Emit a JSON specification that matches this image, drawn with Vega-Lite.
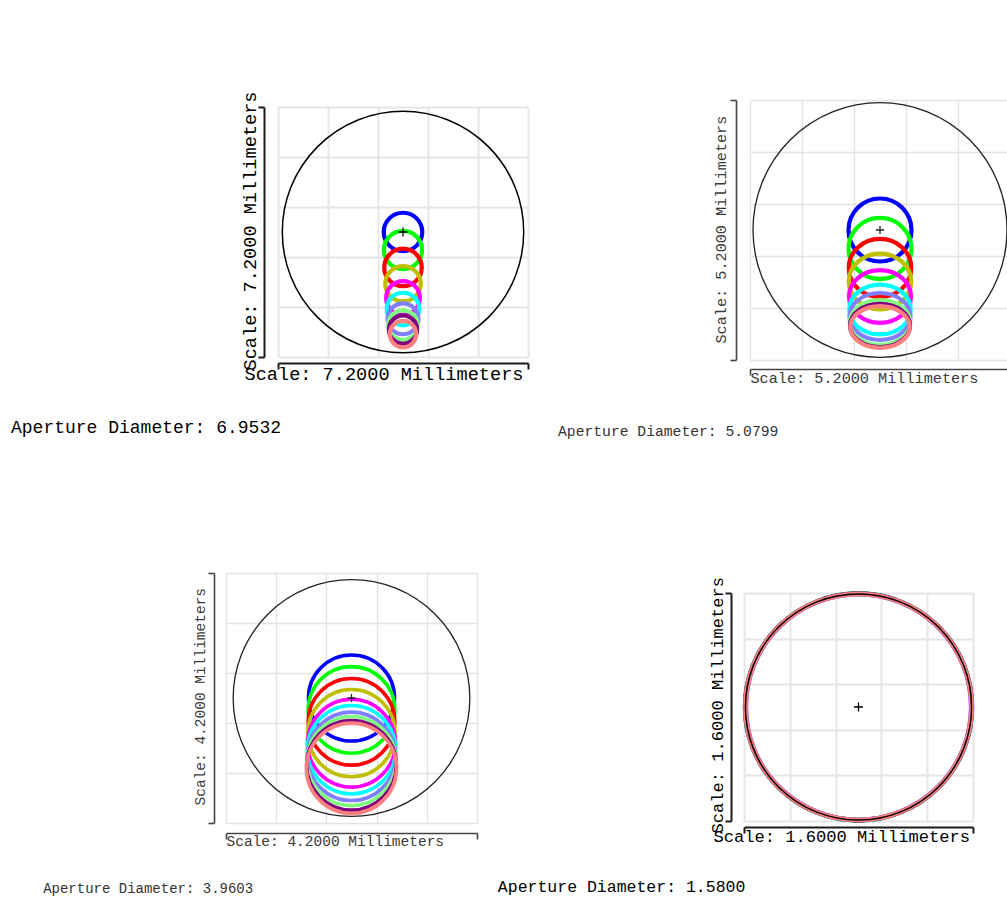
{
  "$schema": "https://vega.github.io/schema/vega-lite/v6.json",
  "padding": {"left": 10, "top": 91, "right": 0, "bottom": 0},
  "background": "white",
  "config": {"view": {"stroke": null}},
  "datasets": {
    "ap1": [{"x": 0, "y": 0, "d": 6.9532, "label": "Aperture Diameter: 6.9532"}],
    "ap2": [{"x": 0, "y": 0, "d": 5.0799, "label": "Aperture Diameter: 5.0799"}],
    "ap3": [{"x": 0, "y": 0, "d": 3.9603, "label": "Aperture Diameter: 3.9603"}],
    "ap4": [{"x": 0, "y": 0, "d": 1.58, "label": "Aperture Diameter: 1.5800"}],
    "p1": [
      {"f": 1, "x": 0, "y": 0, "d": 1.11},
      {"f": 2, "x": 0, "y": -0.52, "d": 1.10},
      {"f": 3, "x": 0, "y": -1.02, "d": 1.08},
      {"f": 4, "x": 0, "y": -1.49, "d": 1.02},
      {"f": 5, "x": 0, "y": -1.90, "d": 0.97},
      {"f": 6, "x": 0, "y": -2.22, "d": 0.94},
      {"f": 7, "x": 0, "y": -2.50, "d": 0.89},
      {"f": 8, "x": 0, "y": -2.68, "d": 0.85},
      {"f": 9, "x": 0, "y": -2.81, "d": 0.81},
      {"f": 10, "x": 0, "y": -2.94, "d": 0.76}
    ],
    "p2": [
      {"f": 1, "x": 0, "y": 0, "d": 1.26},
      {"f": 2, "x": 0, "y": -0.37, "d": 1.26},
      {"f": 3, "x": 0, "y": -0.76, "d": 1.25},
      {"f": 4, "x": 0, "y": -1.03, "d": 1.25},
      {"f": 5, "x": 0, "y": -1.33, "d": 1.24},
      {"f": 6, "x": 0, "y": -1.59, "d": 1.23},
      {"f": 7, "x": 0, "y": -1.73, "d": 1.22},
      {"f": 8, "x": 0, "y": -1.85, "d": 1.21},
      {"f": 9, "x": 0, "y": -1.91, "d": 1.20},
      {"f": 10, "x": 0, "y": -1.94, "d": 1.19}
    ],
    "p3": [
      {"f": 1, "x": 0, "y": 0, "d": 1.44},
      {"f": 2, "x": 0, "y": -0.20, "d": 1.45},
      {"f": 3, "x": 0, "y": -0.40, "d": 1.45},
      {"f": 4, "x": 0, "y": -0.59, "d": 1.46},
      {"f": 5, "x": 0, "y": -0.76, "d": 1.47},
      {"f": 6, "x": 0, "y": -0.87, "d": 1.48},
      {"f": 7, "x": 0, "y": -0.98, "d": 1.48},
      {"f": 8, "x": 0, "y": -1.06, "d": 1.49},
      {"f": 9, "x": 0, "y": -1.13, "d": 1.50},
      {"f": 10, "x": 0, "y": -1.18, "d": 1.51}
    ],
    "p4": [
      {"f": 1, "x": 0, "y": 0, "d": 1.586},
      {"f": 2, "x": 0, "y": 0, "d": 1.584},
      {"f": 3, "x": 0, "y": 0, "d": 1.582},
      {"f": 4, "x": 0, "y": 0, "d": 1.580},
      {"f": 5, "x": 0, "y": 0, "d": 1.574},
      {"f": 6, "x": 0, "y": 0, "d": 1.578},
      {"f": 7, "x": 0, "y": 0, "d": 1.580},
      {"f": 8, "x": 0, "y": 0, "d": 1.580},
      {"f": 9, "x": 0, "y": 0, "d": 1.581},
      {"f": 10, "x": 0, "y": 0, "d": 1.580}
    ]
  },
  "bounds": "flush",
  "spacing": 473,
  "resolve": {
    "scale": {"x": "independent", "y": "independent", "size": "independent", "color": "independent", "shape": "independent"},
    "axis": {"x": "independent", "y": "independent"}
  },
  "vconcat": [
    {
      "bounds": "flush",
      "spacing": 0,
      "resolve": {
        "scale": {"x": "independent", "y": "independent", "size": "independent", "color": "independent", "shape": "independent"},
        "axis": {"x": "independent", "y": "independent"}
      },
      "hconcat": [
        {"width": 267, "height": 1, "data": {"values": []}, "mark": "point"},
        {
          "bounds": "flush",
          "spacing": 0,
          "resolve": {
            "scale": {"x": "independent", "y": "independent", "size": "independent", "color": "independent", "shape": "independent"},
            "axis": {"x": "independent", "y": "independent"}
          },
          "vconcat": [
            {"width": 1, "height": 7, "data": {"values": []}, "mark": "point"},
            {
              "width": 250, "height": 250,
              "layer": [
                {
                  "data": {"name": "ap1"},
                  "mark": {"type": "point", "shape": "circle", "filled": false, "color": "#000", "strokeWidth": 1.5, "opacity": 1},
                  "encoding": {
                    "x": {"field": "x", "type": "quantitative", "scale": {"domain": [-3.6, 3.6], "nice": false},
                      "axis": {"values": [-3.6, -2.88, -2.16, -1.44, -0.72, 0, 0.72, 1.44, 2.16, 2.88, 3.6], "grid": true, "gridColor": "#e6e6e6", "gridWidth": 2, "labels": false, "domainColor": "#1a1a1a", "domainWidth": 2, "tickColor": "#1a1a1a", "tickWidth": 2, "tickSize": 6, "tickOpacity": {"condition": {"test": "abs(datum.value) > 3.5", "value": 1}, "value": 0}, "offset": 6, "title": "Scale: 7.2000 Millimeters", "titleFont": "Liberation Mono", "titleFontSize": 18.6, "titleFontWeight": "normal", "titleColor": "#000", "titleAlign": "left", "titleBaseline": "alphabetic", "titleX": -34, "titleY": 16}},
                    "y": {"field": "y", "type": "quantitative", "scale": {"domain": [-3.6, 3.6], "nice": false},
                      "axis": {"values": [-3.6, -2.88, -2.16, -1.44, -0.72, 0, 0.72, 1.44, 2.16, 2.88, 3.6], "grid": true, "gridColor": "#e6e6e6", "gridWidth": 2, "labels": false, "domainColor": "#1a1a1a", "domainWidth": 2, "tickColor": "#1a1a1a", "tickWidth": 2, "tickSize": 6, "tickOpacity": {"condition": {"test": "abs(datum.value) > 3.5", "value": 1}, "value": 0}, "offset": 14, "title": "Scale: 7.2000 Millimeters", "titleFont": "Liberation Mono", "titleFontSize": 18.6, "titleFontWeight": "normal", "titleColor": "#000", "titleAngle": 270, "titleAlign": "left", "titleBaseline": "alphabetic", "titleX": -9, "titleY": 263}},
                    "size": {"field": "d", "type": "quantitative", "scale": {"type": "pow", "exponent": 2, "domain": [0, 7.2], "range": [0, 62500]}, "legend": null}
                  }
                },
                {
                  "data": {"name": "p1"},
                  "mark": {"type": "point", "shape": "circle", "filled": false, "strokeWidth": 4.2, "opacity": 1},
                  "encoding": {
                    "x": {"field": "x", "type": "quantitative"},
                    "y": {"field": "y", "type": "quantitative"},
                    "size": {"field": "d", "type": "quantitative", "legend": null},
                    "color": {"field": "f", "type": "nominal", "scale": {"domain": [1, 2, 3, 4, 5, 6, 7, 8, 9, 10], "range": ["#0000ff", "#00ff00", "#ff0000", "#bfbf00", "#ff00ff", "#00ffff", "#8080ff", "#80ff80", "#800080", "#ff8080"]}, "legend": null}
                  }
                },
                {
                  "data": {"name": "ap1"},
                  "mark": {"type": "point", "shape": "M-1,0H1M0,-1V1", "filled": false, "color": "#000", "strokeWidth": 1.3, "size": 81, "opacity": 1},
                  "encoding": {"x": {"field": "x", "type": "quantitative"}, "y": {"field": "y", "type": "quantitative"}}
                },
                {
                  "data": {"name": "ap1"},
                  "mark": {"type": "text", "align": "left", "baseline": "alphabetic", "font": "Liberation Mono", "fontSize": 18, "color": "#000"},
                  "encoding": {"text": {"field": "label"}, "x": {"datum": -11.29, "type": "quantitative"}, "y": {"datum": -5.78, "type": "quantitative"}}
                }
              ]
            }
          ]
        },
        {"width": 472, "height": 1, "data": {"values": []}, "mark": "point"},
        {
          "width": 260, "height": 260,
          "layer": [
            {
              "data": {"name": "ap2"},
              "mark": {"type": "point", "shape": "circle", "filled": false, "color": "#222", "strokeWidth": 1.3, "opacity": 1},
              "encoding": {
                "x": {"field": "x", "type": "quantitative", "scale": {"domain": [-2.6, 2.6], "nice": false},
                  "axis": {"values": [-2.6, -2.08, -1.56, -1.04, -0.52, 0, 0.52, 1.04, 1.56, 2.08, 2.6], "grid": true, "gridColor": "#e3e3e3", "gridWidth": 1.3, "labels": false, "domainColor": "#444", "domainWidth": 1.6, "tickColor": "#444", "tickWidth": 1.6, "tickSize": 6, "tickOpacity": {"condition": {"test": "abs(datum.value) > 2.5", "value": 1}, "value": 0}, "offset": 9, "title": "Scale: 5.2000 Millimeters", "titleFont": "Liberation Mono", "titleFontSize": 15.2, "titleFontWeight": "normal", "titleColor": "#3a3a3a", "titleAlign": "left", "titleBaseline": "alphabetic", "titleX": 0, "titleY": 13}},
                "y": {"field": "y", "type": "quantitative", "scale": {"domain": [-2.6, 2.6], "nice": false},
                  "axis": {"values": [-2.6, -2.08, -1.56, -1.04, -0.52, 0, 0.52, 1.04, 1.56, 2.08, 2.6], "grid": true, "gridColor": "#e3e3e3", "gridWidth": 1.3, "labels": false, "domainColor": "#444", "domainWidth": 1.6, "tickColor": "#444", "tickWidth": 1.6, "tickSize": 6, "tickOpacity": {"condition": {"test": "abs(datum.value) > 2.5", "value": 1}, "value": 0}, "offset": 14, "title": "Scale: 5.2000 Millimeters", "titleFont": "Liberation Mono", "titleFontSize": 15.2, "titleFontWeight": "normal", "titleColor": "#3a3a3a", "titleAngle": 270, "titleAlign": "left", "titleBaseline": "alphabetic", "titleX": -11, "titleY": 243}},
                "size": {"field": "d", "type": "quantitative", "scale": {"type": "pow", "exponent": 2, "domain": [0, 5.2], "range": [0, 67600]}, "legend": null}
              }
            },
            {
              "data": {"name": "p2"},
              "mark": {"type": "point", "filled": false, "strokeWidth": 4.2, "opacity": 1},
              "encoding": {
                "x": {"field": "x", "type": "quantitative"},
                "y": {"field": "y", "type": "quantitative"},
                "size": {"field": "d", "type": "quantitative", "legend": null},
                "color": {"field": "f", "type": "nominal", "scale": {"domain": [1, 2, 3, 4, 5, 6, 7, 8, 9, 10], "range": ["#0000ff", "#00ff00", "#ff0000", "#bfbf00", "#ff00ff", "#00ffff", "#8080ff", "#80ff80", "#800080", "#ff8080"]}, "legend": null},
                "shape": {"field": "f", "type": "nominal", "scale": {"domain": [1, 2, 3, 4, 5, 6, 7, 8, 9, 10], "range": [
                  "circle",
                  "M-1,0C-1,-0.5357,-0.5523,-0.97,0,-0.97C0.5523,-0.97,1,-0.5357,1,0C1,0.5357,0.5523,0.97,0,0.97C-0.5523,0.97,-1,0.5357,-1,0Z",
                  "M-1,0C-1,-0.5136,-0.5523,-0.93,0,-0.93C0.5523,-0.93,1,-0.5136,1,0C1,0.5136,0.5523,0.93,0,0.93C-0.5523,0.93,-1,0.5136,-1,0Z",
                  "M-1,0C-1,-0.4915,-0.5523,-0.89,0,-0.89C0.5523,-0.89,1,-0.4915,1,0C1,0.4915,0.5523,0.89,0,0.89C-0.5523,0.89,-1,0.4915,-1,0Z",
                  "M-1,0C-1,-0.4695,-0.5523,-0.85,0,-0.85C0.5523,-0.85,1,-0.4695,1,0C1,0.4695,0.5523,0.85,0,0.85C-0.5523,0.85,-1,0.4695,-1,0Z",
                  "M-1,0C-1,-0.4474,-0.5523,-0.81,0,-0.81C0.5523,-0.81,1,-0.4474,1,0C1,0.4474,0.5523,0.81,0,0.81C-0.5523,0.81,-1,0.4474,-1,0Z",
                  "M-1,0C-1,-0.4253,-0.5523,-0.77,0,-0.77C0.5523,-0.77,1,-0.4253,1,0C1,0.4253,0.5523,0.77,0,0.77C-0.5523,0.77,-1,0.4253,-1,0Z",
                  "M-1,0C-1,-0.4087,-0.5523,-0.74,0,-0.74C0.5523,-0.74,1,-0.4087,1,0C1,0.4087,0.5523,0.74,0,0.74C-0.5523,0.74,-1,0.4087,-1,0Z",
                  "M-1,0C-1,-0.3977,-0.5523,-0.72,0,-0.72C0.5523,-0.72,1,-0.3977,1,0C1,0.3977,0.5523,0.72,0,0.72C-0.5523,0.72,-1,0.3977,-1,0Z",
                  "M-1,0C-1,-0.3866,-0.5523,-0.70,0,-0.70C0.5523,-0.70,1,-0.3866,1,0C1,0.3866,0.5523,0.70,0,0.70C-0.5523,0.70,-1,0.3866,-1,0Z"
                ]}, "legend": null}
              }
            },
            {
              "data": {"name": "ap2"},
              "mark": {"type": "point", "shape": "M-1,0H1M0,-1V1", "filled": false, "color": "#222", "strokeWidth": 1.3, "size": 64, "opacity": 1},
              "encoding": {"x": {"field": "x", "type": "quantitative"}, "y": {"field": "y", "type": "quantitative"}}
            },
            {
              "data": {"name": "ap2"},
              "mark": {"type": "text", "align": "left", "baseline": "alphabetic", "font": "Liberation Mono", "fontSize": 14.7, "color": "#333"},
              "encoding": {"text": {"field": "label"}, "x": {"datum": -6.44, "type": "quantitative"}, "y": {"datum": -4.12, "type": "quantitative"}}
            }
          ]
        }
      ]
    },
    {
      "bounds": "flush",
      "spacing": 0,
      "resolve": {
        "scale": {"x": "independent", "y": "independent", "size": "independent", "color": "independent", "shape": "independent"},
        "axis": {"x": "independent", "y": "independent"}
      },
      "hconcat": [
        {"width": 215, "height": 1, "data": {"values": []}, "mark": "point"},
        {
          "width": 251, "height": 250,
          "layer": [
            {
              "data": {"name": "ap3"},
              "mark": {"type": "point", "shape": "circle", "filled": false, "color": "#222", "strokeWidth": 1.3, "opacity": 1},
              "encoding": {
                "x": {"field": "x", "type": "quantitative", "scale": {"domain": [-2.1, 2.1], "nice": false},
                  "axis": {"values": [-2.1, -1.68, -1.26, -0.84, -0.42, 0, 0.42, 0.84, 1.26, 1.68, 2.1], "grid": true, "gridColor": "#e3e3e3", "gridWidth": 1.3, "labels": false, "domainColor": "#444", "domainWidth": 1.6, "tickColor": "#444", "tickWidth": 1.6, "tickSize": 6, "tickOpacity": {"condition": {"test": "abs(datum.value) > 2.0", "value": 1}, "value": 0}, "offset": 10, "title": "Scale: 4.2000 Millimeters", "titleFont": "Liberation Mono", "titleFontSize": 14.5, "titleFontWeight": "normal", "titleColor": "#3a3a3a", "titleAlign": "left", "titleBaseline": "alphabetic", "titleX": 0, "titleY": 12}},
                "y": {"field": "y", "type": "quantitative", "scale": {"domain": [-2.1, 2.1], "nice": false},
                  "axis": {"values": [-2.1, -1.68, -1.26, -0.84, -0.42, 0, 0.42, 0.84, 1.26, 1.68, 2.1], "grid": true, "gridColor": "#e3e3e3", "gridWidth": 1.3, "labels": false, "domainColor": "#444", "domainWidth": 1.6, "tickColor": "#444", "tickWidth": 1.6, "tickSize": 6, "tickOpacity": {"condition": {"test": "abs(datum.value) > 2.0", "value": 1}, "value": 0}, "offset": 12, "title": "Scale: 4.2000 Millimeters", "titleFont": "Liberation Mono", "titleFontSize": 14.5, "titleFontWeight": "normal", "titleColor": "#3a3a3a", "titleAngle": 270, "titleAlign": "left", "titleBaseline": "alphabetic", "titleX": -10, "titleY": 232}},
                "size": {"field": "d", "type": "quantitative", "scale": {"type": "pow", "exponent": 2, "domain": [0, 4.2], "range": [0, 63001]}, "legend": null}
              }
            },
            {
              "data": {"name": "p3"},
              "mark": {"type": "point", "shape": "circle", "filled": false, "strokeWidth": 3.6, "opacity": 1},
              "encoding": {
                "x": {"field": "x", "type": "quantitative"},
                "y": {"field": "y", "type": "quantitative"},
                "size": {"field": "d", "type": "quantitative", "legend": null},
                "color": {"field": "f", "type": "nominal", "scale": {"domain": [1, 2, 3, 4, 5, 6, 7, 8, 9, 10], "range": ["#0000ff", "#00ff00", "#ff0000", "#bfbf00", "#ff00ff", "#00ffff", "#8080ff", "#80ff80", "#800080", "#ff8080"]}, "legend": null}
              }
            },
            {
              "data": {"name": "ap3"},
              "mark": {"type": "point", "shape": "M-1,0H1M0,-1V1", "filled": false, "color": "#222", "strokeWidth": 1.3, "size": 64, "opacity": 1},
              "encoding": {"x": {"field": "x", "type": "quantitative"}, "y": {"field": "y", "type": "quantitative"}}
            },
            {
              "data": {"name": "ap3"},
              "mark": {"type": "text", "align": "left", "baseline": "alphabetic", "font": "Liberation Mono", "fontSize": 14, "color": "#333"},
              "encoding": {"text": {"field": "label"}, "x": {"datum": -5.16, "type": "quantitative"}, "y": {"datum": -3.28, "type": "quantitative"}}
            }
          ]
        },
        {"width": 267, "height": 1, "data": {"values": []}, "mark": "point"},
        {
          "bounds": "flush",
          "spacing": 0,
          "resolve": {
            "scale": {"x": "independent", "y": "independent", "size": "independent", "color": "independent", "shape": "independent"},
            "axis": {"x": "independent", "y": "independent"}
          },
          "vconcat": [
            {"width": 1, "height": 20, "data": {"values": []}, "mark": "point"},
            {
              "width": 229, "height": 228,
              "layer": [
                {
                  "data": {"name": "ap4"},
                  "mark": {"type": "point", "shape": "circle", "filled": false, "color": "#000", "strokeWidth": 1.5, "opacity": 1},
                  "encoding": {
                    "x": {"field": "x", "type": "quantitative", "scale": {"domain": [-0.8, 0.8], "nice": false},
                      "axis": {"values": [-0.8, -0.64, -0.48, -0.32, -0.16, 0, 0.16, 0.32, 0.48, 0.64, 0.8], "grid": true, "gridColor": "#e6e6e6", "gridWidth": 2, "labels": false, "domainColor": "#1a1a1a", "domainWidth": 2, "tickColor": "#1a1a1a", "tickWidth": 2, "tickSize": 6, "tickOpacity": {"condition": {"test": "abs(datum.value) > 0.75", "value": 1}, "value": 0}, "offset": 6, "title": "Scale: 1.6000 Millimeters", "titleFont": "Liberation Mono", "titleFontSize": 17.1, "titleFontWeight": "normal", "titleColor": "#000", "titleAlign": "left", "titleBaseline": "alphabetic", "titleX": -31, "titleY": 14}},
                    "y": {"field": "y", "type": "quantitative", "scale": {"domain": [-0.8, 0.8], "nice": false},
                      "axis": {"values": [-0.8, -0.64, -0.48, -0.32, -0.16, 0, 0.16, 0.32, 0.48, 0.64, 0.8], "grid": true, "gridColor": "#e6e6e6", "gridWidth": 2, "labels": false, "domainColor": "#1a1a1a", "domainWidth": 2, "tickColor": "#1a1a1a", "tickWidth": 2, "tickSize": 6, "tickOpacity": {"condition": {"test": "abs(datum.value) > 0.75", "value": 1}, "value": 0}, "offset": 13, "title": "Scale: 1.6000 Millimeters", "titleFont": "Liberation Mono", "titleFontSize": 17.1, "titleFontWeight": "normal", "titleColor": "#000", "titleAngle": 270, "titleAlign": "left", "titleBaseline": "alphabetic", "titleX": -9, "titleY": 240}},
                    "size": {"field": "d", "type": "quantitative", "scale": {"type": "pow", "exponent": 2, "domain": [0, 1.6], "range": [0, 52441]}, "legend": null}
                  }
                },
                {
                  "data": {"name": "p4"},
                  "mark": {"type": "point", "shape": "circle", "filled": false, "strokeWidth": 4.5, "opacity": 1},
                  "encoding": {
                    "x": {"field": "x", "type": "quantitative"},
                    "y": {"field": "y", "type": "quantitative"},
                    "size": {"field": "d", "type": "quantitative", "legend": null},
                    "color": {"field": "f", "type": "nominal", "scale": {"domain": [1, 2, 3, 4, 5, 6, 7, 8, 9, 10], "range": ["#0000ff", "#00ff00", "#ff0000", "#bfbf00", "#ff00ff", "#00ffff", "#8080ff", "#80ff80", "#800080", "#ff8080"]}, "legend": null}
                  }
                },
                {
                  "data": {"name": "ap4"},
                  "mark": {"type": "point", "shape": "circle", "filled": false, "color": "#000", "strokeWidth": 1.5, "opacity": 1},
                  "encoding": {"x": {"field": "x", "type": "quantitative"}, "y": {"field": "y", "type": "quantitative"}, "size": {"field": "d", "type": "quantitative", "legend": null}}
                },
                {
                  "data": {"name": "ap4"},
                  "mark": {"type": "point", "shape": "M-1,0H1M0,-1V1", "filled": false, "color": "#000", "strokeWidth": 1.3, "size": 81, "opacity": 1},
                  "encoding": {"x": {"field": "x", "type": "quantitative"}, "y": {"field": "y", "type": "quantitative"}}
                },
                {
                  "data": {"name": "ap4"},
                  "mark": {"type": "text", "align": "left", "baseline": "alphabetic", "font": "Liberation Mono", "fontSize": 16.5, "color": "#000"},
                  "encoding": {"text": {"field": "label"}, "x": {"datum": -2.52, "type": "quantitative"}, "y": {"datum": -1.30, "type": "quantitative"}}
                }
              ]
            }
          ]
        }
      ]
    }
  ]
}
